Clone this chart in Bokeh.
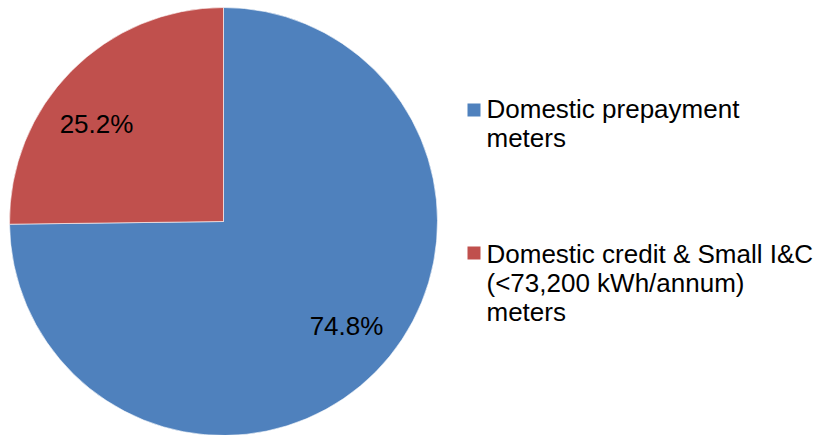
import math
from bokeh.plotting import figure
from bokeh.models import Range1d, ColumnDataSource
from bokeh.core.properties import value
from bokeh.embed import file_html
from bokeh.resources import INLINE

# ---- data ----
categories = ["Domestic prepayment\nmeters",
              "Domestic credit & Small I&C\n(<73,200 kWh/annum)\nmeters"]
shares = [74.8, 25.2]
labels = ["74.8%", "25.2%"]
colors = ["#4F81BD", "#C0504D"]

# ---- layout ----
W, H = 825, 435
CX, CY, R = 223, H - 221, 214
FONT = "Liberation Sans"
FS = "26px"
LINE = 29
SHIFT = 9  # compensate renderer's baseline offset

p = figure(width=W, height=H, output_backend="svg", toolbar_location=None,
           x_range=Range1d(0, W), y_range=Range1d(0, H), min_border=0)
p.axis.visible = False
p.grid.visible = False
p.outline_line_color = None
p.background_fill_color = "white"
p.border_fill_color = "white"

total = sum(shares)
starts, ends = [], []
a = math.pi / 2
for s in shares:
    span = s / total * 2 * math.pi
    starts.append(a)
    ends.append(a - span)
    a -= span

src = ColumnDataSource(dict(start=starts, end=ends, color=colors))
p.wedge(x=CX, y=CY, radius=R, start_angle="start", end_angle="end",
        direction="clock", fill_color="color", line_color="white",
        line_width=0.6, source=src)

# data labels (anchor positions for annotations, baseline)
label_pos = [(346, H - (334 - SHIFT)), (96, H - (132 - SHIFT))]
p.text(x=[q[0] for q in label_pos], y=[q[1] for q in label_pos], text=labels,
       text_font=value(FONT), text_font_size=FS, text_color="black",
       text_align="center", text_baseline="alphabetic")

# legend
leg_x, leg_tops = 467, [103, 246]
baselines = [117.7 - SHIFT, 262.7 - SHIFT]
for cat, col, top, b in zip(categories, colors, leg_tops, baselines):
    p.rect(x=leg_x + 6.5, y=H - (top + 6.5), width=13, height=13,
           fill_color=col, line_color=None)
    lines = cat.split("\n")
    p.text(x=[leg_x + 19] * len(lines),
           y=[H - (b + i * LINE) for i in range(len(lines))], text=lines,
           text_font=value(FONT), text_font_size=FS, text_color="black",
           text_align="left", text_baseline="alphabetic")

open("out.html", "w").write(file_html(p, INLINE))
